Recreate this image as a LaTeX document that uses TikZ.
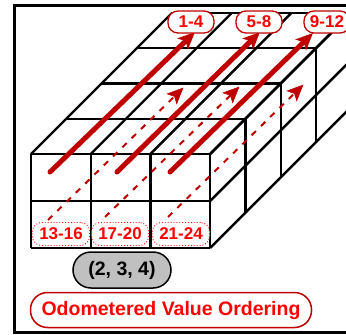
\documentclass[tikz,border=0pt]{standalone}
\usepackage{fontspec}
\setmainfont{Liberation Sans}
\usetikzlibrary{arrows.meta, calc}
\definecolor{arrowRed}{HTML}{C00000}
\definecolor{labelRed}{HTML}{FF0000}
\definecolor{pillGray}{HTML}{C0C0C0}

\newcommand{\cw}{59.7}  % column width
\newcommand{\rh}{47}    % row height
\newcommand{\dd}{35.3}  % depth step

\begin{document}
\begin{tikzpicture}[x=1pt, y=-1pt,
    edge/.style={line width=2.4pt, black},
    rowfront/.style={line width=5pt, arrowRed, line cap=round,
                     -{Stealth[length=17pt, width=15pt, inset=4pt]}},
    rowback/.style={line width=2pt, arrowRed, dash pattern=on 6pt off 7pt, shorten >=12pt},
    rowtip/.style={arrowRed, fill=arrowRed, line width=0.5pt, line join=miter},
    toplab/.style={draw=arrowRed, line width=1.3pt, fill=white, rounded corners=10pt,
                   minimum width=46pt, minimum height=22pt, inner sep=2pt,
                   text=labelRed, font=\bfseries\fontsize{17}{17}\selectfont},
    botlab/.style={draw=labelRed, dotted, line width=0.9pt, fill=white, rounded corners=9pt,
                   minimum width=57pt, minimum height=23pt, inner sep=1pt,
                   text=labelRed, font=\bfseries\fontsize{17}{17}\selectfont},
  ]
    \useasboundingbox (0,0) rectangle (346,335);
    \clip (0,0) rectangle (346,335);
    \draw[line width=3pt] (14,5) rectangle (370,332);

    % front face
    \foreach \i in {0,...,3}
      \draw[edge] ({31+\cw*\i},154) -- ({31+\cw*\i},{154+2*\rh});
    \foreach \j in {0,...,2}
      \draw[edge] (31,{154+\rh*\j}) -- ({31+3*\cw},{154+\rh*\j});
    % top face
    \foreach \k in {0,...,4}
      \draw[edge] ({31+\dd*\k},{154-\dd*\k}) -- ({31+3*\cw+\dd*\k},{154-\dd*\k});
    \foreach \i in {0,...,3}
      \draw[edge] ({31+\cw*\i},154) -- ({31+\cw*\i+4*\dd},{154-4*\dd});
    % right face
    \foreach \k in {0,...,4}
      \draw[edge] ({31+3*\cw+\dd*\k},{154-\dd*\k}) -- ({31+3*\cw+\dd*\k},{154+2*\rh-\dd*\k});
    \foreach \j in {0,...,2}
      \draw[edge] ({31+3*\cw},{154+\rh*\j}) -- ({31+3*\cw+4*\dd},{154+\rh*\j-4*\dd});

    \coordinate (f1) at (50,172);  \coordinate (f1e) at (195,32);
    \coordinate (f2) at (117,172); \coordinate (f2e) at (260,32);
    \coordinate (f3) at (170,172); \coordinate (f3e) at (313,33);
    \coordinate (b1) at (48,220);  \coordinate (b1e) at (183,88);
    \coordinate (b2) at (105,217); \coordinate (b2e) at (239,87);
    \coordinate (b3) at (168,217); \coordinate (b3e) at (303,85);

    % dashed rows, with a solid dart at the far end
    \foreach \n in {1,2,3} {
      \draw[rowback] (b\n) -- (b\n e);
      \filldraw[rowtip] (b\n e) -- ($(b\n e)!17pt!24:(b\n)$) -- ($(b\n e)!12pt!(b\n)$)
        -- ($(b\n e)!17pt!-24:(b\n)$) -- cycle;
    }
    \draw[rowfront] (f1) -- (f1e);
    \draw[rowfront] (f2) -- (f2e);
    \draw[rowfront] (f3) -- (f3e);

    \node[toplab] (t1) at (191,22) {1-4};
    \node[toplab] (t2) at (259,22) {5-8};
    \node[toplab] (t3) at (327,22) {9-12};
    \node[botlab] (l1) at (61,234)  {13-16};
    \node[botlab] (l2) at (120,234) {17-20};
    \node[botlab] (l3) at (181,234) {21-24};

    \node[draw, line width=1.5pt, fill=pillGray, rounded corners=18pt,
          minimum width=98pt, minimum height=36pt,
          font=\bfseries\fontsize{19.5}{19.5}\selectfont] (dims) at (122,270) {(2, 3, 4)};
    \node[draw=arrowRed, line width=1.5pt, fill=white, rounded corners=17pt,
          minimum width=281pt, minimum height=35pt, text=labelRed,
          font=\bfseries\fontsize{19.5}{19.5}\selectfont] (title) at (171,310) {Odometered Value Ordering};
  \end{tikzpicture}
\end{document}
